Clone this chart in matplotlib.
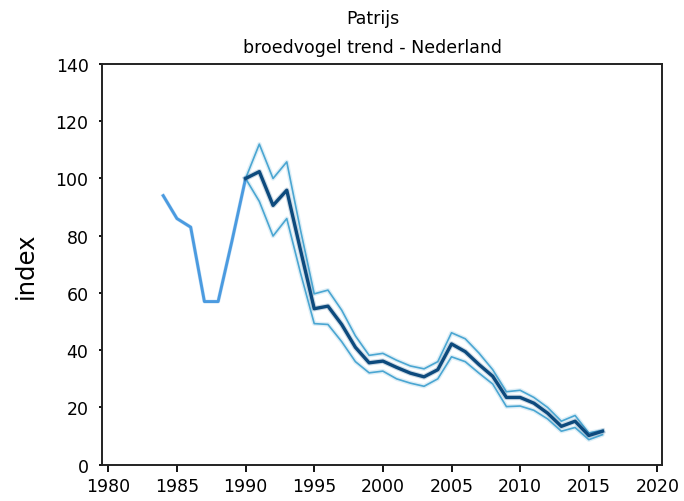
import matplotlib
matplotlib.use('Agg')
import matplotlib.pyplot as plt

# early part of the series (before the base year)
preYears = [1984, 1985, 1986, 1987, 1988, 1989, 1990]
preIndex = [94, 86, 83, 57, 57, 78, 100]

# trend 1990-2016 with upper / lower bound
years = list(range(1990, 2017))
index = [100, 102.4, 90.6, 95.9, 75, 54.5, 55.4, 49, 41, 35.6, 36.2, 34, 32, 30.7,
         33.2, 42.2, 39.5, 35, 30.9, 23.5, 23.5, 21.5, 18, 13.4, 15.2, 10.2, 11.7]
upper = [100, 112, 100, 105.8, 82, 59.7, 61, 54, 45, 38.2, 38.9, 36.5, 34.5, 33.5,
         36, 46.1, 44, 39, 33.2, 25.5, 26, 23.5, 20, 15.2, 17.2, 11.1, 12]
lower = [100, 92, 79.9, 86, 67, 49.3, 49, 43, 36, 32.1, 32.7, 30, 28.5, 27.4,
         30, 37.7, 36, 32, 28.2, 20.3, 20.5, 19, 16, 11.7, 13, 8.75, 10.5]

title = "Patrijs\nbroedvogel trend - Nederland"
xticks = [1980, 1985, 1990, 1995, 2000, 2005, 2010, 2015, 2020]
yticks = [0, 20, 40, 60, 80, 100, 120, 140]

fig = plt.figure(figsize=(6.84, 5.02), dpi=100)
ax = fig.add_axes([0.1487, 0.0723, 0.8193, 0.7982])

bandColor = '#4aa6d2'
for b in (upper, lower):
    ax.plot(years, b, color=bandColor, lw=3.2, alpha=0.18, solid_capstyle='round')
    ax.plot(years, b, color=bandColor, lw=1.2)
ax.plot(preYears, preIndex, color='#4b9be0', lw=2.8, alpha=0.25)
ax.plot(preYears, preIndex, color='#4b9be0', lw=2.1)
ax.plot(years, index, color='#0d4a7d', lw=4.0, alpha=0.2)
ax.plot(years, index, color='#0d4a7d', lw=2.4)

ax.set_xlim(1979.52, 2020.34)
ax.set_ylim(0, 140)
ax.set_xticks(xticks)
ax.set_yticks(yticks)
ax.tick_params(axis='x', direction='out', length=5, width=1.3, pad=4, labelsize=12.5)
ax.tick_params(axis='y', direction='out', length=2.5, width=1.3, pad=7, labelsize=12.5)
for s in ax.spines.values():
    s.set_linewidth(1.4)
    s.set_color('#222222')

ax.set_ylabel('index', fontsize=17.5, labelpad=12)
ax.yaxis.set_label_coords(-0.115, 0.5)
fig.text(373/684, 1 - 53/502, title, ha='center', va='baseline', fontsize=12.5,
         linespacing=1.75)

fig.savefig('out.png', dpi=100)
